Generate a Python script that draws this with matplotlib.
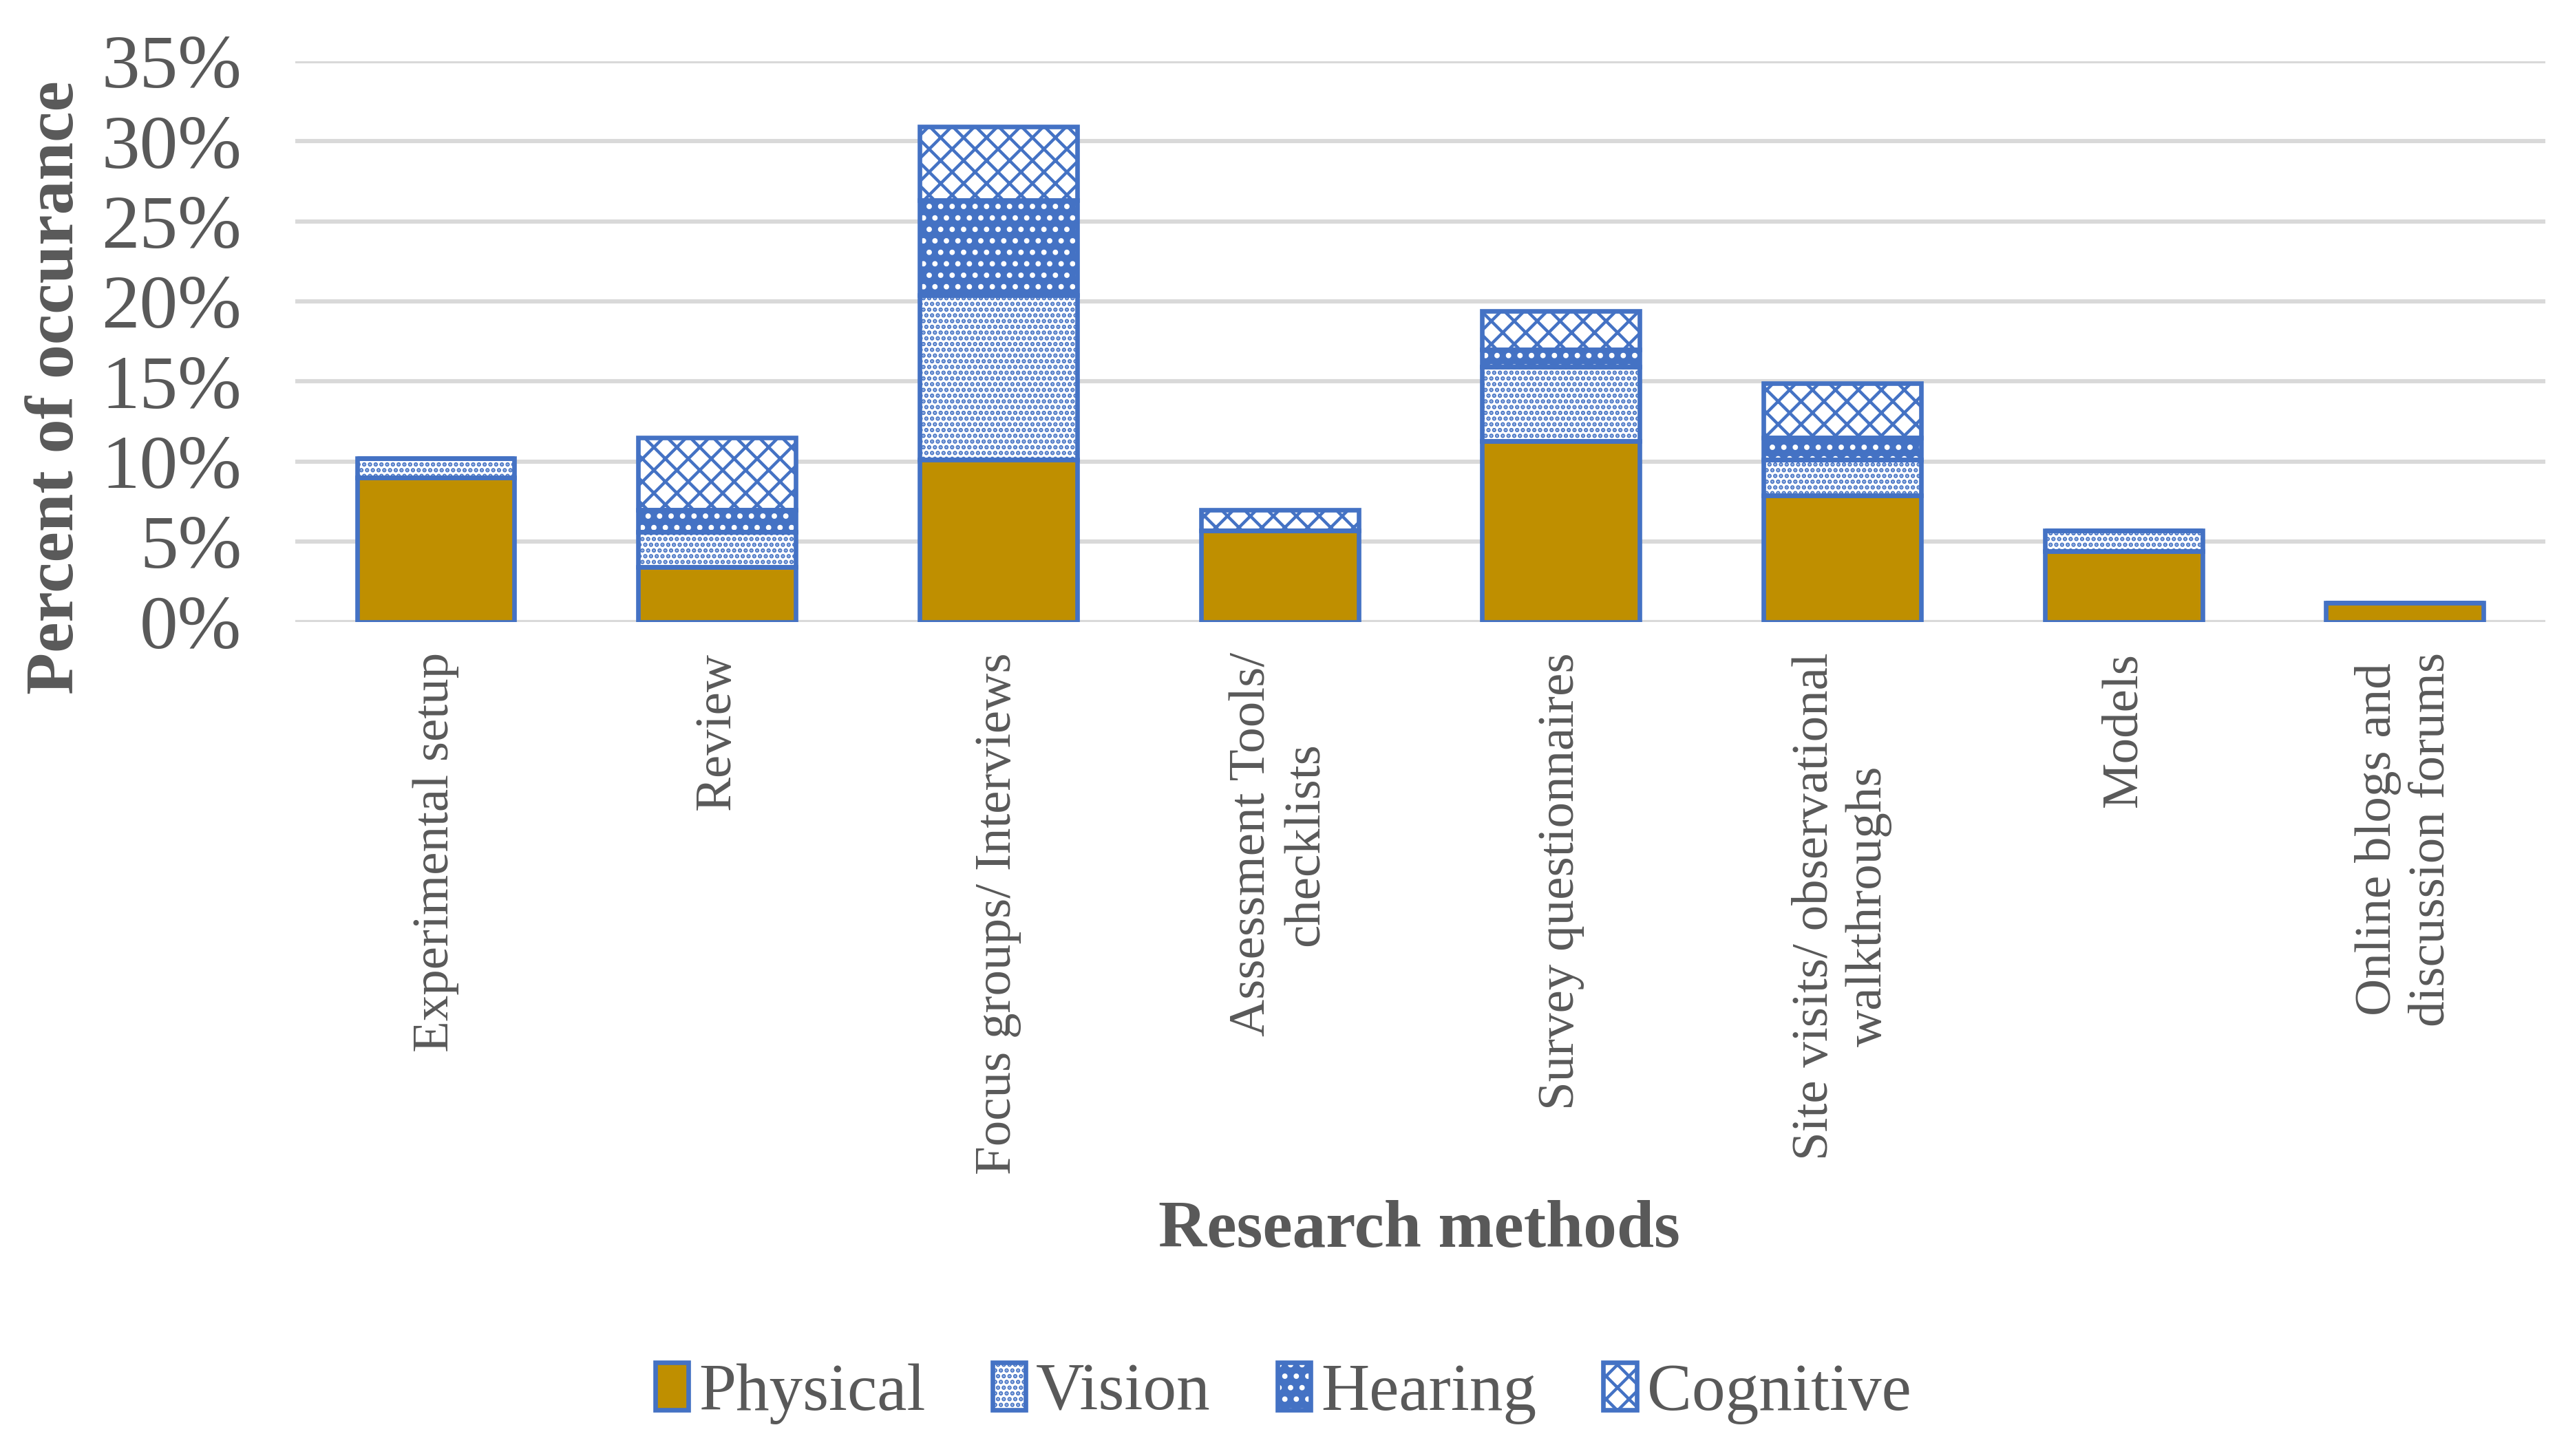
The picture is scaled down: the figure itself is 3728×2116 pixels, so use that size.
import numpy as np
import matplotlib
matplotlib.use("Agg")
import matplotlib.pyplot as plt
from matplotlib.patches import Patch
from matplotlib.ticker import FuncFormatter

categories = ["Experimental setup", "Review", "Focus groups/ Interviews",
              "Assessment Tools/\nchecklists", "Survey questionnaires",
              "Site visits/ observational\nwalkthroughs", "Models",
              "Online blogs and\ndiscussion forums"]
series_names = ["Physical", "Vision", "Hearing", "Cognitive"]
physical = [9.0, 3.4, 10.1, 5.7, 11.3, 7.9, 4.4, 1.2]
vision = [1.2, 2.2, 10.3, 0.0, 4.6, 2.2, 1.3, 0.0]
hearing = [0.0, 1.4, 5.9, 0.0, 1.1, 1.4, 0.0, 0.0]
cognitive = [0.0, 4.5, 4.6, 1.3, 2.4, 3.4, 0.0, 0.0]
y_ticks = [0, 5, 10, 15, 20, 25, 30, 35]

blue = "#4472C4"
gold = "#BF8F00"
grey_text = "#595959"

plt.rcParams['font.family'] = ['Liberation Serif', 'DejaVu Serif']
plt.rcParams['hatch.linewidth'] = 1.6

fig = plt.figure(figsize=(18.64, 10.58), dpi=200)
ax = fig.add_axes([0.115, 0.573, 0.877, 0.385])

x = np.arange(len(categories))
width = 0.56
lw = 2.4

# (values, facecolor, hatch, hatch colour)
styles = [
    (physical, gold, None, blue),
    (vision, "white", "....", blue),
    (hearing, blue, "..", "white"),
    (cognitive, "white", "xx", blue),
]

bottom = np.zeros(len(categories))
for vals, fc, hatch, hc in styles:
    vals = np.array(vals)
    # fill + hatch, then a clean blue outline on top
    ax.bar(x, vals, width, bottom=bottom, facecolor=fc, edgecolor=hc,
           hatch=hatch, linewidth=0, zorder=2)
    ax.bar(x, vals, width, bottom=bottom, facecolor="none", edgecolor=blue,
           linewidth=lw, zorder=3)
    bottom += vals

ax.set_xlim(-0.5, len(categories) - 0.5)
ax.set_ylim(0, 35)
ax.set_yticks(y_ticks)
ax.yaxis.set_major_formatter(FuncFormatter(lambda v, p: f"{v:.0f}%"))
ax.grid(axis="y", color="#D9D9D9", linewidth=2.2, zorder=0)
ax.set_axisbelow(True)
for s in ax.spines.values():
    s.set_visible(False)
ax.tick_params(axis="both", length=0, colors=grey_text)
ax.tick_params(axis="y", labelsize=40, pad=28)
ax.set_xticks(x)
ax.set_xticklabels(categories, rotation=90, fontsize=27, va="top",
                   ha="center", multialignment="center")
ax.tick_params(axis="x", pad=16)

fig.text(0.022, 0.734, "Percent of occurance", rotation=90, ha="center",
         va="center", fontsize=36, fontweight="bold", color=grey_text)
fig.text(0.553, 0.155, "Research methods", ha="center", va="center",
         fontsize=35, fontweight="bold", color=grey_text)

handles = []
for name, (vals, fc, hatch, hc) in zip(series_names, styles):
    fill = Patch(facecolor=fc, edgecolor=hc, hatch=hatch, linewidth=0)
    outline = Patch(facecolor="none", edgecolor=blue, linewidth=lw)
    handles.append((fill, outline))
leg = fig.legend(handles, series_names, loc="center", bbox_to_anchor=(0.5, 0.043),
                 ncol=4, frameon=False, fontsize=35, handlelength=0.5,
                 handleheight=0.7, handletextpad=0.15, columnspacing=1.0)
for t in leg.get_texts():
    t.set_color(grey_text)

fig.savefig("out.png", dpi=200)
